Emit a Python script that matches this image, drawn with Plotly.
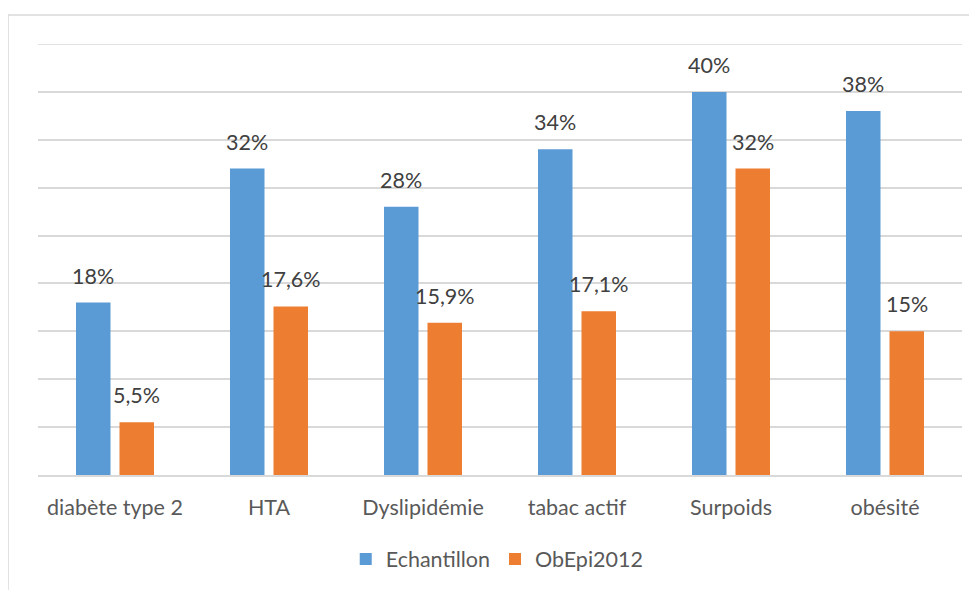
import plotly.graph_objects as go

categories = ["diabète type 2", "HTA", "Dyslipidémie", "tabac actif", "Surpoids", "obésité"]
echantillon = [18, 32, 28, 34, 40, 38]
obepi2012 = [5.5, 17.6, 15.9, 17.1, 32, 15]
echantillon_labels = ["18%", "32%", "28%", "34%", "40%", "38%"]
obepi_labels = ["5,5%", "17,6%", "15,9%", "17,1%", "32%", "15%"]

BLUE = "#5B9BD5"
ORANGE = "#ED7D31"
FONT = "Lato"
FS = 21.5

# figure is placed inside the page body (8px default margin)
W, H = 969, 582
ML, MT = 30, 36
PW, PH = 924, 431
MR = W - ML - PW
MB = H - MT - PH

fig = go.Figure()
fig.add_trace(go.Bar(name="Echantillon", x=categories, y=echantillon,
                     marker=dict(color=BLUE, line=dict(width=0))))
fig.add_trace(go.Bar(name="ObEpi2012", x=categories, y=obepi2012,
                     marker=dict(color=ORANGE, line=dict(width=0))))

offset = 0.1412
annotations = []
for i, (v, t) in enumerate(zip(echantillon, echantillon_labels)):
    annotations.append(dict(x=i - offset, y=v, xref="x", yref="y", text=t,
                            showarrow=False, yanchor="bottom", yshift=12,
                            font=dict(family=FONT, size=FS, color="#404040")))
for i, (v, t) in enumerate(zip(obepi2012, obepi_labels)):
    annotations.append(dict(x=i + offset, y=v, xref="x", yref="y", text=t,
                            showarrow=False, yanchor="bottom", yshift=12,
                            font=dict(family=FONT, size=FS, color="#404040")))

fig.update_layout(
    width=W, height=H,
    margin=dict(l=ML, r=MR, t=MT, b=MB, autoexpand=False),
    paper_bgcolor="white", plot_bgcolor="white",
    barmode="group", bargap=0.435, bargroupgap=0.207,
    font=dict(family=FONT, size=FS, color="#595959"),
    showlegend=True,
    legend=dict(orientation="h", x=0.497, xanchor="center", y=-0.195, yanchor="middle",
                font=dict(family=FONT, size=FS, color="#595959")),
    annotations=annotations,
    shapes=[dict(type="rect", xref="paper", yref="paper",
                 x0=(0 - ML) / PW, x1=1.2, y0=-0.5, y1=1 + (MT - 7) / PH,
                 line=dict(color="#D9D9D9", width=1.5), fillcolor="rgba(0,0,0,0)",
                 layer="below"),
            dict(type="line", xref="paper", yref="y", x0=0, x1=1, y0=45, y1=45,
                 line=dict(color="#D9D9D9", width=1.5), layer="below")],
)
fig.update_xaxes(showgrid=False, showline=True, linecolor="#D9D9D9", linewidth=1.5,
                 ticks="", ticklabelstandoff=12,
                 tickfont=dict(family=FONT, size=FS, color="#595959"))
fig.update_yaxes(range=[0, 45], dtick=5, showticklabels=False, showgrid=True,
                 gridcolor="#D9D9D9", gridwidth=1.5, zeroline=False, showline=False)

fig.write_html("out.html")
